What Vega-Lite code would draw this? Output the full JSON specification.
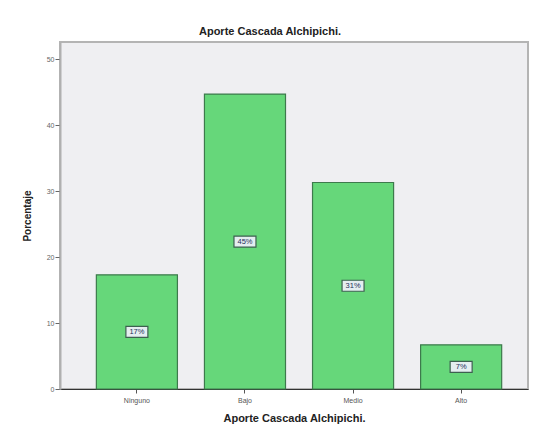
{
  "$schema": "https://vega.github.io/schema/vega-lite/v6.json",
  "width": 468,
  "height": 347,
  "autosize": {"type": "none"},
  "padding": {"left": 60, "top": 42, "right": 7, "bottom": 45},
  "background": "white",
  "title": {
    "text": "Aporte Cascada Alchipichi.",
    "font": "Liberation Sans",
    "fontSize": 11,
    "fontWeight": "bold",
    "color": "#222222",
    "anchor": "middle",
    "dx": -24,
    "offset": 5
  },
  "data": {
    "values": [
      {"categoria": "Ninguno", "porcentaje": 17.3, "label": "17%"},
      {"categoria": "Bajo", "porcentaje": 44.7, "label": "45%"},
      {"categoria": "Medio", "porcentaje": 31.3, "label": "31%"},
      {"categoria": "Alto", "porcentaje": 6.7, "label": "7%"}
    ]
  },
  "layer": [
    {
      "mark": {"type": "bar", "fill": "#66d77a", "stroke": "#3d7a4c", "strokeWidth": 1.2},
      "encoding": {
        "x": {
          "field": "categoria",
          "type": "nominal",
          "sort": ["Ninguno", "Bajo", "Medio", "Alto"],
          "scale": {"paddingInner": 0.25, "paddingOuter": 0.29, "align": 0.58},
          "axis": {
            "title": "Aporte Cascada Alchipichi.",
            "titleFont": "Liberation Sans",
            "titleFontSize": 11,
            "titleFontWeight": "bold",
            "titleColor": "#222222",
            "titlePadding": 9,
            "labelFont": "Liberation Sans",
            "labelFontSize": 7,
            "labelColor": "#555555",
            "labelAngle": 0,
            "labelPadding": 3,
            "tickSize": 4,
            "tickColor": "#555555",
            "domainColor": "#333333",
            "domainWidth": 1
          }
        },
        "y": {
          "field": "porcentaje",
          "type": "quantitative",
          "scale": {"domain": [0, 52.6], "nice": false},
          "axis": {
            "title": "Porcentaje",
            "titleFont": "Liberation Sans",
            "titleFontSize": 10,
            "titleFontWeight": "bold",
            "titleColor": "#222222",
            "titlePadding": 14,
            "values": [0, 10, 20, 30, 40, 50],
            "labelFont": "Liberation Sans",
            "labelFontSize": 7,
            "labelColor": "#666666",
            "labelPadding": 1,
            "tickSize": 5,
            "tickColor": "#666666",
            "grid": false,
            "domainColor": "#b0b0b0",
            "domainWidth": 2
          }
        }
      }
    },
    {
      "mark": {
        "type": "point",
        "shape": "M-1,-0.5L1,-0.5L1,0.5L-1,0.5Z",
        "size": 484,
        "filled": false,
        "fill": "#e4eef0",
        "fillOpacity": 1,
        "stroke": "#3d6050",
        "strokeWidth": 1.2,
        "opacity": 1
      },
      "encoding": {
        "x": {"field": "categoria", "type": "nominal", "sort": ["Ninguno", "Bajo", "Medio", "Alto"]},
        "y": {
          "field": "porcentaje",
          "type": "quantitative",
          "scale": {"domain": [0, 105.2], "nice": false},
          "axis": null
        }
      }
    },
    {
      "mark": {"type": "text", "font": "Liberation Sans", "fontSize": 7.5, "color": "#1f2f5a", "baseline": "middle", "align": "center"},
      "encoding": {
        "x": {"field": "categoria", "type": "nominal", "sort": ["Ninguno", "Bajo", "Medio", "Alto"]},
        "y": {
          "field": "porcentaje",
          "type": "quantitative",
          "scale": {"domain": [0, 105.2], "nice": false},
          "axis": null
        },
        "text": {"field": "label"}
      }
    }
  ],
  "resolve": {"scale": {"y": "independent"}},
  "config": {
    "view": {"fill": "#efeff2", "stroke": "#b4b4b4", "strokeWidth": 2}
  }
}
